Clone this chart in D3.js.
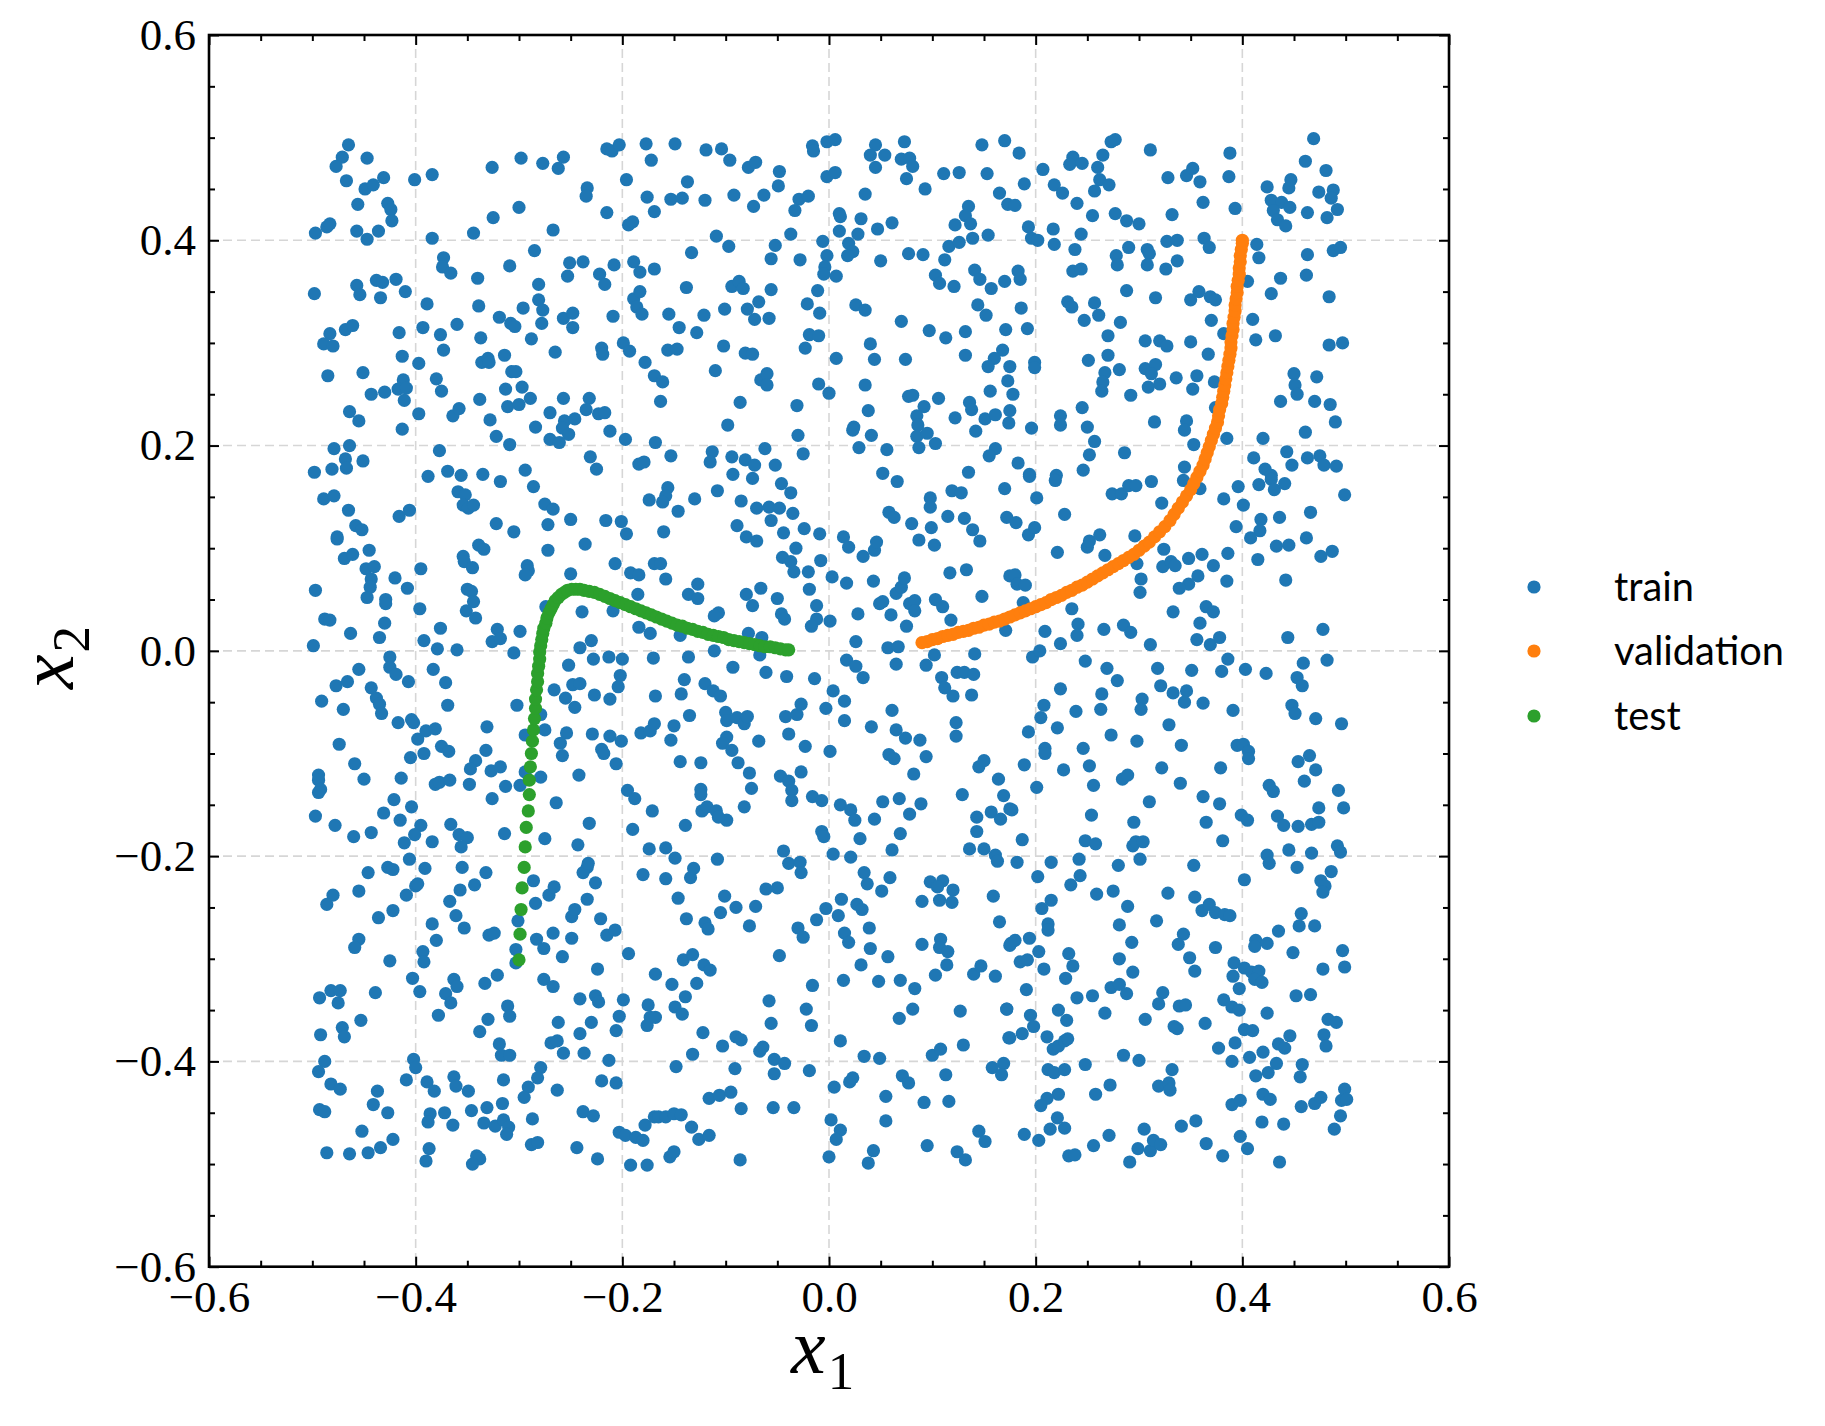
<!DOCTYPE html>
<html><head><meta charset="utf-8">
<script src="https://cdn.jsdelivr.net/npm/d3@7"></script>
<style>body{margin:0;background:#fff} svg{display:block}</style>
</head><body><svg id="chart" width="1825" height="1426"></svg>
<script>
// ---------- DATA ----------
const trainPts = [
[-0.465,0.493],[-0.471,0.481],[-0.477,0.472],[-0.447,0.480],[-0.467,0.458],[-0.449,0.450],[-0.441,0.454],[-0.431,0.461],[-0.456,0.435],[-0.427,0.436],[-0.424,0.430],[-0.423,0.419],[-0.497,0.407],[-0.486,0.413],[-0.483,0.416],[-0.457,0.409],[-0.447,0.401],[-0.436,0.409],[-0.401,0.459],[-0.384,0.464],[-0.326,0.471],[-0.298,0.480],[-0.277,0.475],[-0.262,0.470],[-0.257,0.481],[-0.215,0.489],[-0.210,0.487],[-0.203,0.493],[-0.177,0.494],[-0.172,0.478],[-0.196,0.459],[-0.234,0.451],[-0.235,0.443],[-0.176,0.442],[-0.169,0.428],[-0.215,0.427],[-0.194,0.415],[-0.190,0.418],[-0.300,0.432],[-0.325,0.422],[-0.267,0.410],[-0.344,0.407],[-0.384,0.402],[-0.373,0.383],[-0.374,0.374],[-0.366,0.368],[-0.340,0.363],[-0.309,0.375],[-0.285,0.390],[-0.251,0.378],[-0.253,0.365],[-0.238,0.379],[-0.222,0.367],[-0.217,0.357],[-0.208,0.376],[-0.189,0.379],[-0.183,0.369],[-0.169,0.372],[-0.281,0.357],[-0.498,0.348],[-0.457,0.356],[-0.454,0.347],[-0.438,0.361],[-0.432,0.359],[-0.419,0.362],[-0.434,0.344],[-0.410,0.350],[-0.389,0.338],[-0.339,0.336],[-0.296,0.334],[-0.281,0.342],[-0.277,0.332],[-0.319,0.325],[-0.308,0.319],[-0.304,0.316],[-0.278,0.319],[-0.257,0.324],[-0.248,0.329],[-0.248,0.315],[-0.209,0.326],[-0.189,0.343],[-0.183,0.350],[-0.186,0.335],[-0.181,0.328],[-0.483,0.309],[-0.489,0.299],[-0.480,0.297],[-0.468,0.313],[-0.461,0.317],[-0.416,0.310],[-0.393,0.315],[-0.376,0.308],[-0.360,0.318],[-0.373,0.293],[-0.337,0.305],[-0.288,0.304],[-0.413,0.287],[-0.397,0.280],[-0.336,0.281],[-0.330,0.285],[-0.329,0.281],[-0.314,0.288],[-0.307,0.272],[-0.303,0.272],[-0.265,0.291],[-0.220,0.295],[-0.219,0.289],[-0.199,0.300],[-0.193,0.292],[-0.178,0.281],[-0.169,0.268],[-0.485,0.268],[-0.451,0.271],[-0.412,0.264],[-0.417,0.255],[-0.409,0.256],[-0.411,0.244],[-0.443,0.250],[-0.430,0.252],[-0.380,0.265],[-0.375,0.253],[-0.397,0.231],[-0.364,0.229],[-0.358,0.236],[-0.338,0.245],[-0.313,0.255],[-0.297,0.257],[-0.289,0.246],[-0.311,0.238],[-0.300,0.240],[-0.328,0.225],[-0.322,0.209],[-0.309,0.201],[-0.284,0.218],[-0.270,0.232],[-0.257,0.246],[-0.256,0.224],[-0.258,0.217],[-0.252,0.211],[-0.246,0.226],[-0.270,0.206],[-0.261,0.203],[-0.232,0.246],[-0.235,0.235],[-0.223,0.231],[-0.217,0.232],[-0.212,0.214],[-0.197,0.206],[-0.464,0.233],[-0.455,0.224],[-0.413,0.216],[-0.479,0.197],[-0.464,0.200],[-0.468,0.187],[-0.467,0.178],[-0.451,0.185],[-0.498,0.174],[-0.481,0.177],[-0.377,0.195],[-0.231,0.189],[-0.225,0.177],[-0.184,0.182],[-0.179,0.184],[-0.168,0.203],[-0.294,0.176],[-0.369,0.175],[-0.356,0.171],[-0.335,0.172],[-0.388,0.170],
[-0.161,0.262],[-0.163,0.243],[-0.149,0.494],[-0.119,0.488],[-0.104,0.489],[-0.096,0.478],[-0.078,0.471],[-0.071,0.476],[-0.048,0.467],[-0.049,0.453],[-0.137,0.457],[-0.153,0.440],[-0.142,0.441],[-0.120,0.439],[-0.092,0.444],[-0.063,0.444],[-0.073,0.433],[-0.029,0.440],[-0.020,0.443],[-0.033,0.429],[-0.016,0.492],[-0.015,0.487],[-0.002,0.496],[0.006,0.498],[-0.002,0.462],[0.006,0.466],[0.045,0.493],[0.040,0.483],[0.054,0.483],[0.073,0.496],[0.070,0.479],[0.078,0.480],[0.081,0.472],[0.045,0.471],[0.075,0.460],[0.093,0.450],[0.035,0.445],[0.111,0.465],[0.126,0.466],[0.148,0.493],[0.170,0.497],[0.153,0.465],[0.165,0.446],[0.173,0.435],[0.010,0.426],[0.011,0.423],[0.031,0.421],[0.010,0.409],[0.028,0.406],[0.047,0.411],[0.061,0.417],[-0.109,0.404],[-0.097,0.394],[-0.133,0.388],[-0.052,0.395],[-0.056,0.382],[-0.037,0.406],[-0.028,0.381],[-0.006,0.399],[-0.002,0.385],[-0.004,0.374],[-0.005,0.367],[0.007,0.365],[0.019,0.397],[0.023,0.389],[0.018,0.385],[0.050,0.380],[0.077,0.387],[0.091,0.386],[0.112,0.381],[0.116,0.394],[0.126,0.398],[0.122,0.415],[0.135,0.433],[0.132,0.424],[0.137,0.416],[0.139,0.402],[0.154,0.405],[0.103,0.366],[0.107,0.358],[0.121,0.355],[0.141,0.371],[0.146,0.362],[0.157,0.353],[0.170,0.360],[0.144,0.337],[0.152,0.327],[0.171,0.313],[-0.138,0.354],[-0.094,0.355],[-0.087,0.360],[-0.083,0.353],[-0.056,0.352],[-0.068,0.340],[-0.079,0.333],[-0.072,0.323],[-0.058,0.324],[-0.101,0.333],[-0.121,0.327],[-0.155,0.328],[-0.145,0.315],[-0.128,0.310],[-0.156,0.293],[-0.147,0.294],[-0.102,0.297],[-0.081,0.290],[-0.074,0.289],[-0.110,0.273],[-0.066,0.264],[-0.060,0.270],[-0.060,0.259],[-0.086,0.242],[-0.098,0.220],[-0.031,0.239],[-0.030,0.210],[-0.021,0.338],[-0.011,0.351],[-0.009,0.329],[-0.019,0.308],[-0.010,0.307],[-0.023,0.295],[-0.010,0.260],[0.000,0.251],[0.007,0.285],[0.026,0.337],[0.035,0.332],[0.040,0.299],[0.044,0.284],[0.035,0.259],[0.070,0.321],[0.074,0.284],[0.097,0.312],[0.113,0.305],[0.132,0.311],[0.132,0.288],[0.168,0.293],[0.160,0.285],[0.154,0.277],[0.175,0.277],[0.173,0.263],[0.156,0.253],[0.077,0.248],[0.081,0.249],[0.092,0.238],[0.106,0.246],[0.085,0.229],[0.086,0.220],[0.085,0.209],[0.095,0.212],[0.103,0.202],[0.087,0.198],[0.122,0.227],[0.136,0.242],[0.138,0.235],[0.151,0.226],[0.161,0.230],[0.142,0.214],[0.174,0.222],[0.175,0.234],[0.038,0.234],[0.024,0.218],[0.023,0.215],[0.041,0.210],[0.029,0.198],[0.056,0.196],[0.161,0.197],[0.155,0.190],[-0.153,0.190],[-0.113,0.194],[-0.115,0.184],[-0.094,0.189],[-0.081,0.186],[-0.072,0.181],[-0.062,0.197],[-0.052,0.181],[-0.025,0.192],[-0.093,0.172],[0.052,0.173],[0.135,0.174],
[0.180,0.434],[0.178,0.250],[0.183,0.183],[0.184,0.485],[0.207,0.469],[0.189,0.455],[0.218,0.454],[0.226,0.446],[0.236,0.481],[0.233,0.474],[0.245,0.475],[0.265,0.483],[0.273,0.496],[0.277,0.498],[0.260,0.471],[0.262,0.459],[0.271,0.454],[0.257,0.448],[0.240,0.436],[0.255,0.424],[0.277,0.426],[0.288,0.419],[0.300,0.416],[0.311,0.488],[0.328,0.461],[0.346,0.463],[0.352,0.470],[0.359,0.457],[0.362,0.437],[0.332,0.425],[0.388,0.485],[0.387,0.462],[0.393,0.431],[0.193,0.413],[0.196,0.402],[0.202,0.400],[0.217,0.411],[0.218,0.396],[0.244,0.406],[0.238,0.391],[0.183,0.370],[0.185,0.362],[0.236,0.370],[0.244,0.372],[0.186,0.334],[0.192,0.314],[0.290,0.393],[0.278,0.385],[0.279,0.376],[0.308,0.391],[0.310,0.387],[0.308,0.376],[0.327,0.399],[0.337,0.400],[0.337,0.380],[0.326,0.372],[0.363,0.402],[0.368,0.393],[0.414,0.396],[0.416,0.383],[0.405,0.360],[0.437,0.363],[0.463,0.386],[0.462,0.366],[0.488,0.390],[0.495,0.393],[0.469,0.499],[0.461,0.477],[0.481,0.468],[0.424,0.452],[0.445,0.451],[0.447,0.459],[0.428,0.439],[0.438,0.437],[0.430,0.429],[0.446,0.432],[0.434,0.420],[0.442,0.414],[0.474,0.447],[0.488,0.449],[0.486,0.441],[0.492,0.430],[0.463,0.427],[0.482,0.422],[0.288,0.351],[0.316,0.344],[0.350,0.342],[0.358,0.350],[0.369,0.345],[0.374,0.342],[0.231,0.340],[0.235,0.335],[0.257,0.339],[0.261,0.327],[0.247,0.322],[0.282,0.320],[0.270,0.307],[0.270,0.288],[0.251,0.283],[0.306,0.302],[0.320,0.302],[0.327,0.297],[0.350,0.301],[0.370,0.322],[0.382,0.309],[0.367,0.289],[0.410,0.323],[0.428,0.348],[0.413,0.303],[0.432,0.307],[0.484,0.345],[0.484,0.298],[0.497,0.300],[0.199,0.281],[0.199,0.276],[0.267,0.271],[0.265,0.262],[0.264,0.253],[0.281,0.274],[0.292,0.249],[0.306,0.275],[0.316,0.279],[0.312,0.270],[0.320,0.260],[0.309,0.257],[0.336,0.266],[0.356,0.268],[0.352,0.255],[0.373,0.262],[0.450,0.270],[0.451,0.259],[0.453,0.250],[0.472,0.267],[0.437,0.243],[0.470,0.243],[0.485,0.240],[0.490,0.223],[0.245,0.237],[0.224,0.229],[0.224,0.220],[0.250,0.218],[0.196,0.217],[0.257,0.204],[0.252,0.191],[0.286,0.193],[0.246,0.176],[0.315,0.223],[0.346,0.224],[0.344,0.215],[0.353,0.201],[0.344,0.179],[0.385,0.207],[0.374,0.237],[0.420,0.207],[0.411,0.188],[0.422,0.177],[0.443,0.194],[0.448,0.181],[0.461,0.213],[0.463,0.188],[0.475,0.190],[0.479,0.181],[0.491,0.180],[0.194,0.172],[0.220,0.171],[0.428,0.171],
[-0.318,0.165],[-0.286,0.160],[-0.489,0.148],[-0.479,0.151],[-0.465,0.137],[-0.416,0.131],[-0.406,0.137],[-0.458,0.122],[-0.452,0.118],[-0.476,0.111],[-0.476,0.109],[-0.445,0.098],[-0.469,0.090],[-0.461,0.094],[-0.448,0.080],[-0.440,0.082],[-0.443,0.070],[-0.444,0.062],[-0.447,0.052],[-0.420,0.071],[-0.408,0.061],[-0.429,0.050],[-0.429,0.046],[-0.497,0.059],[-0.488,0.031],[-0.483,0.030],[-0.430,0.027],[-0.463,0.017],[-0.435,0.013],[-0.499,0.005],[-0.359,0.155],[-0.352,0.152],[-0.354,0.142],[-0.349,0.139],[-0.344,0.142],[-0.322,0.124],[-0.305,0.116],[-0.275,0.143],[-0.267,0.138],[-0.272,0.123],[-0.250,0.128],[-0.216,0.127],[-0.201,0.126],[-0.196,0.114],[-0.174,0.147],[-0.236,0.104],[-0.272,0.098],[-0.339,0.103],[-0.334,0.099],[-0.354,0.092],[-0.353,0.087],[-0.345,0.081],[-0.395,0.080],[-0.292,0.083],[-0.291,0.078],[-0.294,0.074],[-0.250,0.075],[-0.207,0.085],[-0.192,0.076],[-0.184,0.074],[-0.169,0.085],[-0.350,0.060],[-0.346,0.058],[-0.344,0.048],[-0.351,0.039],[-0.342,0.032],[-0.396,0.041],[-0.185,0.055],[-0.209,0.039],[-0.239,0.038],[-0.274,0.043],[-0.376,0.022],[-0.392,0.010],[-0.379,0.002],[-0.360,0.001],[-0.321,0.021],[-0.326,0.009],[-0.318,0.012],[-0.299,0.019],[-0.305,-0.002],[-0.184,0.023],[-0.173,0.017],[-0.230,0.010],[-0.241,0.003],[-0.228,-0.008],[-0.213,-0.006],[-0.200,-0.008],[-0.170,-0.007],[-0.252,-0.014],[-0.202,-0.024],[-0.204,-0.035],[-0.248,-0.033],[-0.241,-0.032],[-0.266,-0.038],[-0.255,-0.046],[-0.246,-0.055],[-0.227,-0.043],[-0.212,-0.047],[-0.168,-0.044],[-0.425,-0.006],[-0.425,-0.016],[-0.419,-0.023],[-0.407,-0.030],[-0.455,-0.018],[-0.477,-0.034],[-0.466,-0.030],[-0.443,-0.036],[-0.438,-0.046],[-0.435,-0.052],[-0.433,-0.061],[-0.491,-0.049],[-0.470,-0.057],[-0.383,-0.018],[-0.371,-0.031],[-0.369,-0.053],[-0.302,-0.053],[-0.417,-0.070],[-0.404,-0.067],[-0.402,-0.070],[-0.398,-0.086],[-0.390,-0.078],[-0.381,-0.076],[-0.405,-0.104],[-0.392,-0.100],[-0.375,-0.093],[-0.368,-0.098],[-0.331,-0.074],[-0.332,-0.097],[-0.342,-0.107],[-0.347,-0.115],[-0.327,-0.117],[-0.318,-0.113],[-0.279,-0.062],[-0.275,-0.077],[-0.294,-0.082],[-0.254,-0.080],[-0.260,-0.090],[-0.258,-0.102],[-0.229,-0.081],[-0.212,-0.083],[-0.201,-0.088],[-0.220,-0.096],[-0.218,-0.100],[-0.206,-0.110],[-0.182,-0.080],[-0.173,-0.078],[-0.169,-0.071],[-0.474,-0.091],[-0.459,-0.110],[-0.450,-0.125],[-0.494,-0.121],[-0.494,-0.126],[-0.492,-0.135],[-0.494,-0.138],[-0.414,-0.124],[-0.421,-0.145],[-0.404,-0.152],[-0.431,-0.158],[-0.497,-0.161],[-0.478,-0.170],[-0.415,-0.165],[-0.381,-0.130],[-0.377,-0.128],[-0.367,-0.126],[-0.348,-0.130],[-0.326,-0.144],[-0.313,-0.132],[-0.299,-0.131],[-0.294,-0.118],[-0.279,-0.123],[-0.242,-0.121],[-0.264,-0.148],[-0.195,-0.136],[-0.188,-0.144],[-0.171,-0.156],[-0.232,-0.168],[-0.366,-0.169],[-0.395,-0.170],
[-0.074,0.168],[-0.046,0.163],[0.066,0.165],[-0.156,0.159],[-0.158,0.151],[-0.161,0.145],[-0.130,0.148],[-0.108,0.156],[-0.146,0.136],[-0.085,0.146],[-0.070,0.139],[-0.058,0.140],[-0.048,0.139],[-0.037,0.154],[-0.035,0.134],[-0.056,0.127],[-0.089,0.122],[-0.160,0.116],[-0.080,0.111],[-0.070,0.107],[-0.044,0.115],[-0.024,0.119],[-0.009,0.114],[-0.032,0.100],[-0.045,0.091],[-0.037,0.087],[-0.034,0.077],[-0.020,0.077],[-0.008,0.088],[-0.163,0.085],[-0.158,0.070],[-0.127,0.065],[-0.136,0.055],[-0.127,0.051],[-0.080,0.055],[-0.066,0.061],[-0.074,0.044],[-0.050,0.051],[-0.046,0.036],[-0.043,0.031],[-0.019,0.060],[-0.012,0.044],[-0.012,0.031],[-0.017,0.024],[-0.107,0.037],[-0.111,0.034],[-0.144,0.015],[-0.111,0.000],[-0.078,0.017],[-0.065,0.013],[-0.067,-0.004],[-0.136,-0.006],[-0.093,-0.016],[-0.061,-0.021],[-0.041,-0.025],[-0.014,-0.027],[-0.140,-0.028],[-0.143,-0.042],[-0.120,-0.032],[-0.112,-0.039],[-0.105,-0.044],[-0.135,-0.063],[-0.100,-0.060],[-0.099,-0.068],[-0.089,-0.065],[-0.082,-0.071],[-0.079,-0.064],[-0.150,-0.073],[-0.153,-0.087],[-0.099,-0.084],[-0.103,-0.090],[-0.094,-0.097],[-0.068,-0.088],[-0.042,-0.064],[-0.031,-0.062],[-0.027,-0.052],[-0.039,-0.081],[-0.023,-0.093],[-0.003,-0.056],[0.004,-0.039],[0.015,-0.049],[0.015,-0.068],[0.001,-0.098],[-0.144,-0.108],[-0.124,-0.109],[-0.088,-0.109],[-0.077,-0.119],[-0.075,-0.134],[-0.124,-0.135],[-0.124,-0.140],[-0.047,-0.122],[-0.039,-0.127],[-0.036,-0.136],[-0.036,-0.146],[-0.027,-0.118],[-0.016,-0.142],[-0.007,-0.146],[-0.123,-0.156],[-0.118,-0.152],[-0.109,-0.156],[-0.099,-0.165],[-0.107,-0.162],[-0.082,-0.152],[-0.139,-0.170],[0.011,-0.150],[0.021,-0.155],[0.025,-0.165],[0.044,-0.164],[0.052,-0.147],[0.068,-0.144],[0.078,-0.159],[0.089,-0.149],[0.041,-0.074],[0.061,-0.058],[0.065,-0.077],[0.074,-0.085],[0.088,-0.087],[0.094,-0.103],[0.058,-0.101],[0.063,-0.105],[0.082,-0.120],[0.123,-0.070],[0.123,-0.083],[0.145,-0.113],[0.150,-0.107],[0.164,-0.125],[0.169,-0.141],[0.129,-0.140],[0.143,-0.162],[0.157,-0.157],[0.166,-0.164],[0.175,-0.154],[0.017,0.066],[0.003,0.072],[0.001,0.029],[0.026,0.009],[0.017,-0.009],[0.026,-0.015],[0.033,-0.026],[0.028,0.036],[0.014,0.111],[0.019,0.101],[0.033,0.092],[0.044,0.098],[0.046,0.106],[0.043,0.068],[0.049,0.046],[0.052,0.048],[0.060,0.035],[0.065,0.056],[0.070,0.062],[0.073,0.071],[0.058,0.135],[0.063,0.130],[0.080,0.124],[0.087,0.108],[0.098,0.149],[0.098,0.140],[0.099,0.120],[0.102,0.103],[0.115,0.131],[0.119,0.156],[0.128,0.154],[0.131,0.129],[0.139,0.118],[0.146,0.107],[0.170,0.158],[0.172,0.130],[0.117,0.076],[0.133,0.079],[0.148,0.053],[0.175,0.073],[0.078,0.046],[0.083,0.049],[0.083,0.039],[0.075,0.024],[0.103,0.050],[0.110,0.043],[0.118,0.030],[0.057,0.003],[0.067,0.004],[0.065,-0.013],[0.094,-0.014],[0.102,-0.004],[0.109,-0.026],[0.112,-0.036],[0.120,-0.044],[0.124,-0.021],[0.131,-0.021],[0.140,-0.023],[0.138,-0.043],[0.141,-0.003],[0.171,0.020],
[0.194,0.170],[0.219,0.166],[0.201,0.149],[0.228,0.133],[0.274,0.153],[0.283,0.153],[0.290,0.161],[0.297,0.161],[0.312,0.165],[0.343,0.166],[0.322,0.144],[0.359,0.158],[0.181,0.125],[0.193,0.113],[0.199,0.120],[0.221,0.096],[0.250,0.101],[0.252,0.107],[0.262,0.113],[0.267,0.093],[0.296,0.112],[0.298,0.085],[0.302,0.070],[0.301,0.057],[0.180,0.074],[0.182,0.065],[0.190,0.064],[0.188,0.047],[0.235,0.041],[0.241,0.026],[0.240,0.015],[0.209,0.019],[0.224,0.007],[0.266,0.021],[0.285,0.025],[0.292,0.018],[0.311,0.006],[0.324,0.099],[0.323,0.082],[0.331,0.087],[0.335,0.083],[0.348,0.090],[0.361,0.094],[0.372,0.083],[0.357,0.073],[0.348,0.065],[0.339,0.061],[0.333,0.038],[0.386,0.095],[0.385,0.068],[0.365,0.043],[0.372,0.038],[0.359,0.027],[0.356,0.011],[0.369,0.006],[0.378,0.013],[0.382,0.148],[0.396,0.160],[0.401,0.142],[0.394,0.121],[0.416,0.162],[0.428,0.167],[0.431,0.157],[0.441,0.163],[0.418,0.128],[0.417,0.117],[0.408,0.110],[0.415,0.089],[0.433,0.102],[0.445,0.103],[0.436,0.130],[0.442,0.069],[0.462,0.110],[0.466,0.135],[0.476,0.092],[0.487,0.097],[0.499,0.152],[0.478,0.021],[0.444,0.013],[0.197,-0.006],[0.204,0.000],[0.248,-0.010],[0.269,-0.017],[0.279,-0.029],[0.224,-0.037],[0.208,-0.053],[0.205,-0.065],[0.193,-0.079],[0.221,-0.075],[0.239,-0.059],[0.264,-0.042],[0.263,-0.057],[0.303,-0.047],[0.302,-0.057],[0.318,-0.017],[0.321,-0.034],[0.333,-0.041],[0.346,-0.039],[0.344,-0.050],[0.351,-0.019],[0.362,-0.051],[0.380,-0.020],[0.386,-0.008],[0.403,-0.018],[0.423,-0.022],[0.391,-0.058],[0.329,-0.072],[0.273,-0.082],[0.298,-0.088],[0.341,-0.092],[0.246,-0.095],[0.209,-0.095],[0.209,-0.100],[0.189,-0.111],[0.227,-0.116],[0.252,-0.112],[0.256,-0.131],[0.284,-0.125],[0.289,-0.121],[0.201,-0.133],[0.322,-0.114],[0.340,-0.129],[0.379,-0.114],[0.362,-0.142],[0.378,-0.149],[0.310,-0.147],[0.177,-0.155],[0.254,-0.160],[0.295,-0.167],[0.365,-0.167],[0.395,-0.092],[0.401,-0.091],[0.406,-0.098],[0.406,-0.105],[0.399,-0.160],[0.405,-0.165],[0.426,-0.131],[0.430,-0.137],[0.434,-0.161],[0.454,-0.171],[0.448,-0.053],[0.451,-0.061],[0.453,-0.026],[0.458,-0.034],[0.459,-0.012],[0.482,-0.009],[0.471,-0.066],[0.496,-0.071],[0.454,-0.108],[0.465,-0.102],[0.471,-0.116],[0.460,-0.127],[0.493,-0.136],[0.474,-0.153],[0.498,-0.153],[0.467,-0.169],[0.474,-0.167],[0.440,-0.170],
[-0.460,-0.181],[-0.443,-0.177],[-0.411,-0.187],[-0.401,-0.179],[-0.384,-0.186],[-0.358,-0.179],[-0.350,-0.182],[-0.356,-0.191],[-0.314,-0.178],[-0.275,-0.183],[-0.243,-0.189],[-0.190,-0.174],[-0.174,-0.193],[-0.406,-0.203],[-0.446,-0.216],[-0.427,-0.211],[-0.422,-0.213],[-0.391,-0.212],[-0.355,-0.211],[-0.332,-0.216],[-0.480,-0.238],[-0.486,-0.247],[-0.455,-0.234],[-0.409,-0.238],[-0.400,-0.229],[-0.398,-0.227],[-0.357,-0.233],[-0.343,-0.228],[-0.286,-0.224],[-0.284,-0.246],[-0.271,-0.238],[-0.266,-0.230],[-0.234,-0.211],[-0.238,-0.216],[-0.233,-0.207],[-0.226,-0.226],[-0.234,-0.242],[-0.180,-0.218],[-0.367,-0.244],[-0.361,-0.258],[-0.353,-0.270],[-0.436,-0.260],[-0.422,-0.253],[-0.384,-0.266],[-0.380,-0.282],[-0.455,-0.281],[-0.459,-0.289],[-0.425,-0.302],[-0.393,-0.293],[-0.392,-0.303],[-0.329,-0.277],[-0.324,-0.275],[-0.301,-0.263],[-0.303,-0.291],[-0.303,-0.304],[-0.283,-0.281],[-0.276,-0.290],[-0.267,-0.275],[-0.249,-0.259],[-0.246,-0.252],[-0.249,-0.280],[-0.258,-0.298],[-0.221,-0.261],[-0.215,-0.277],[-0.207,-0.272],[-0.194,-0.295],[-0.224,-0.310],[-0.403,-0.319],[-0.363,-0.320],[-0.360,-0.327],[-0.396,-0.332],[-0.333,-0.324],[-0.321,-0.316],[-0.276,-0.320],[-0.267,-0.327],[-0.371,-0.334],[-0.366,-0.343],[-0.439,-0.333],[-0.482,-0.331],[-0.473,-0.331],[-0.493,-0.338],[-0.475,-0.343],[-0.378,-0.355],[-0.311,-0.346],[-0.309,-0.356],[-0.330,-0.359],[-0.338,-0.371],[-0.453,-0.360],[-0.471,-0.367],[-0.469,-0.376],[-0.492,-0.374],[-0.319,-0.383],[-0.317,-0.394],[-0.309,-0.394],[-0.262,-0.362],[-0.241,-0.339],[-0.226,-0.336],[-0.223,-0.342],[-0.199,-0.340],[-0.203,-0.356],[-0.230,-0.362],[-0.241,-0.373],[-0.206,-0.370],[-0.175,-0.345],[-0.173,-0.357],[-0.176,-0.365],[-0.269,-0.382],[-0.263,-0.380],[-0.257,-0.392],[-0.237,-0.392],[-0.213,-0.399],[-0.488,-0.400],[-0.494,-0.410],[-0.402,-0.398],[-0.400,-0.406],[-0.409,-0.418],[-0.482,-0.422],[-0.473,-0.427],[-0.437,-0.429],[-0.441,-0.442],[-0.427,-0.450],[-0.493,-0.447],[-0.488,-0.449],[-0.389,-0.420],[-0.382,-0.429],[-0.363,-0.415],[-0.361,-0.424],[-0.349,-0.429],[-0.315,-0.418],[-0.279,-0.406],[-0.282,-0.416],[-0.291,-0.425],[-0.295,-0.435],[-0.263,-0.428],[-0.220,-0.419],[-0.206,-0.421],[-0.386,-0.451],[-0.388,-0.459],[-0.372,-0.450],[-0.364,-0.462],[-0.346,-0.448],[-0.331,-0.445],[-0.316,-0.441],[-0.334,-0.460],[-0.323,-0.463],[-0.315,-0.457],[-0.310,-0.464],[-0.312,-0.471],[-0.287,-0.456],[-0.238,-0.449],[-0.228,-0.453],[-0.452,-0.468],[-0.422,-0.476],[-0.434,-0.484],[-0.446,-0.489],[-0.464,-0.490],[-0.486,-0.489],[-0.387,-0.485],[-0.390,-0.497],[-0.341,-0.492],[-0.338,-0.495],[-0.345,-0.500],[-0.288,-0.481],[-0.282,-0.479],[-0.244,-0.484],[-0.224,-0.495],[-0.203,-0.469],[-0.197,-0.472],[-0.187,-0.474],[-0.180,-0.477],[-0.178,-0.462],[-0.169,-0.454],[-0.192,-0.501],[-0.176,-0.501],
[-0.007,-0.176],[-0.005,-0.181],[0.030,-0.183],[0.069,-0.178],[0.143,-0.176],[-0.158,-0.192],[-0.149,-0.202],[-0.108,-0.203],[-0.158,-0.222],[-0.134,-0.221],[-0.131,-0.212],[-0.044,-0.195],[-0.039,-0.207],[-0.028,-0.206],[-0.027,-0.216],[0.004,-0.198],[0.021,-0.201],[0.061,-0.194],[0.034,-0.216],[0.037,-0.227],[0.059,-0.221],[0.051,-0.234],[0.136,-0.193],[0.150,-0.193],[0.161,-0.199],[0.163,-0.205],[0.098,-0.225],[0.110,-0.224],[0.105,-0.230],[0.120,-0.233],[0.090,-0.244],[0.107,-0.243],[0.119,-0.245],[0.159,-0.239],[0.165,-0.264],[-0.146,-0.241],[-0.101,-0.239],[-0.090,-0.250],[-0.105,-0.255],[-0.071,-0.249],[-0.061,-0.232],[-0.050,-0.231],[-0.138,-0.261],[-0.120,-0.265],[-0.117,-0.271],[-0.077,-0.268],[-0.030,-0.270],[-0.025,-0.279],[-0.012,-0.262],[-0.003,-0.251],[0.012,-0.242],[0.009,-0.258],[0.027,-0.247],[0.032,-0.252],[0.039,-0.270],[0.015,-0.275],[0.019,-0.284],[0.040,-0.290],[0.057,-0.298],[0.031,-0.306],[0.090,-0.286],[0.108,-0.281],[0.107,-0.289],[0.115,-0.293],[0.114,-0.306],[0.175,-0.287],[-0.141,-0.301],[-0.132,-0.296],[-0.121,-0.306],[-0.115,-0.311],[-0.168,-0.315],[-0.152,-0.325],[-0.128,-0.324],[-0.139,-0.337],[-0.149,-0.347],[-0.142,-0.354],[-0.168,-0.357],[-0.048,-0.297],[-0.058,-0.341],[-0.056,-0.363],[-0.016,-0.326],[-0.022,-0.349],[-0.017,-0.365],[0.014,-0.321],[0.048,-0.322],[0.069,-0.321],[0.083,-0.329],[0.068,-0.358],[0.081,-0.349],[0.103,-0.316],[0.140,-0.315],[0.147,-0.307],[0.161,-0.317],[0.127,-0.351],[0.172,-0.349],[0.174,-0.377],[-0.122,-0.372],[-0.090,-0.376],[-0.085,-0.379],[-0.103,-0.385],[-0.132,-0.393],[-0.148,-0.405],[-0.091,-0.407],[-0.067,-0.390],[-0.064,-0.386],[-0.053,-0.398],[-0.043,-0.402],[-0.053,-0.412],[-0.019,-0.409],[0.011,-0.380],[0.034,-0.395],[0.049,-0.397],[0.005,-0.425],[0.020,-0.420],[0.023,-0.416],[0.071,-0.414],[0.077,-0.421],[0.055,-0.434],[0.092,-0.440],[0.116,-0.439],[0.113,-0.413],[0.100,-0.394],[0.108,-0.388],[0.130,-0.384],[0.158,-0.406],[0.169,-0.402],[0.167,-0.413],[-0.116,-0.436],[-0.106,-0.433],[-0.095,-0.430],[-0.085,-0.446],[-0.054,-0.445],[-0.034,-0.445],[-0.165,-0.454],[-0.158,-0.454],[-0.150,-0.451],[-0.143,-0.452],[-0.133,-0.464],[-0.126,-0.476],[-0.116,-0.472],[-0.154,-0.493],[-0.150,-0.488],[-0.086,-0.496],[0.002,-0.457],[0.011,-0.467],[0.007,-0.476],[0.000,-0.493],[0.055,-0.458],[0.043,-0.487],[0.038,-0.499],[0.095,-0.482],[0.124,-0.488],[0.132,-0.496],[0.145,-0.468],[0.151,-0.478],
[0.187,-0.184],[0.182,-0.206],[0.215,-0.206],[0.202,-0.220],[0.248,-0.185],[0.258,-0.188],[0.242,-0.203],[0.243,-0.219],[0.234,-0.228],[0.294,-0.190],[0.297,-0.186],[0.304,-0.186],[0.301,-0.203],[0.280,-0.209],[0.381,-0.185],[0.353,-0.209],[0.402,-0.223],[0.259,-0.237],[0.275,-0.234],[0.289,-0.249],[0.328,-0.236],[0.354,-0.240],[0.361,-0.253],[0.368,-0.247],[0.374,-0.255],[0.383,-0.257],[0.388,-0.258],[0.424,-0.199],[0.426,-0.207],[0.445,-0.194],[0.453,-0.211],[0.467,-0.197],[0.492,-0.190],[0.495,-0.196],[0.486,-0.215],[0.476,-0.224],[0.480,-0.229],[0.478,-0.235],[0.206,-0.251],[0.215,-0.243],[0.212,-0.266],[0.212,-0.272],[0.281,-0.267],[0.293,-0.284],[0.317,-0.263],[0.343,-0.276],[0.338,-0.286],[0.349,-0.299],[0.354,-0.312],[0.374,-0.289],[0.457,-0.256],[0.455,-0.268],[0.470,-0.268],[0.435,-0.273],[0.413,-0.282],[0.412,-0.288],[0.424,-0.285],[0.449,-0.294],[0.497,-0.292],[0.499,-0.308],[0.478,-0.310],[0.176,-0.285],[0.180,-0.282],[0.194,-0.280],[0.185,-0.303],[0.192,-0.301],[0.203,-0.293],[0.208,-0.310],[0.232,-0.295],[0.236,-0.307],[0.229,-0.319],[0.281,-0.300],[0.294,-0.313],[0.392,-0.304],[0.391,-0.317],[0.397,-0.329],[0.402,-0.309],[0.409,-0.313],[0.416,-0.312],[0.412,-0.320],[0.419,-0.323],[0.191,-0.330],[0.240,-0.338],[0.255,-0.336],[0.273,-0.328],[0.281,-0.325],[0.288,-0.334],[0.323,-0.333],[0.319,-0.344],[0.339,-0.346],[0.345,-0.345],[0.382,-0.340],[0.390,-0.347],[0.397,-0.350],[0.452,-0.336],[0.466,-0.335],[0.424,-0.353],[0.172,-0.349],[0.195,-0.355],[0.198,-0.366],[0.222,-0.350],[0.230,-0.360],[0.267,-0.353],[0.306,-0.359],[0.334,-0.366],[0.337,-0.368],[0.364,-0.363],[0.402,-0.369],[0.410,-0.370],[0.483,-0.359],[0.491,-0.362],[0.479,-0.374],[0.481,-0.385],[0.446,-0.375],[0.435,-0.383],[0.441,-0.387],[0.175,-0.377],[0.187,-0.373],[0.211,-0.376],[0.217,-0.388],[0.222,-0.385],[0.228,-0.380],[0.231,-0.378],[0.285,-0.394],[0.300,-0.399],[0.248,-0.403],[0.212,-0.408],[0.218,-0.411],[0.228,-0.408],[0.377,-0.387],[0.393,-0.382],[0.390,-0.400],[0.407,-0.396],[0.420,-0.391],[0.433,-0.402],[0.413,-0.414],[0.425,-0.411],[0.458,-0.403],[0.456,-0.415],[0.332,-0.408],[0.319,-0.424],[0.329,-0.421],[0.330,-0.428],[0.272,-0.423],[0.258,-0.432],[0.222,-0.432],[0.211,-0.436],[0.205,-0.443],[0.221,-0.455],[0.214,-0.466],[0.228,-0.465],[0.189,-0.471],[0.203,-0.477],[0.232,-0.492],[0.238,-0.491],[0.256,-0.482],[0.271,-0.472],[0.291,-0.498],[0.299,-0.485],[0.305,-0.466],[0.311,-0.487],[0.314,-0.477],[0.321,-0.481],[0.341,-0.463],[0.355,-0.458],[0.365,-0.480],[0.381,-0.492],[0.390,-0.442],[0.398,-0.438],[0.398,-0.473],[0.405,-0.485],[0.420,-0.432],[0.427,-0.437],[0.419,-0.459],[0.440,-0.461],[0.436,-0.498],[0.457,-0.444],[0.470,-0.441],[0.476,-0.435],[0.496,-0.438],[0.499,-0.427],[0.501,-0.437],[0.495,-0.453],[0.489,-0.466]
];

const validationPts = [
[0.090,0.008],[0.095,0.009],[0.100,0.011],[0.105,0.012],[0.110,0.014],[0.115,0.015],[0.120,0.016],[0.125,0.018],[0.130,0.019],[0.135,0.020],[0.140,0.022],[0.145,0.023],[0.150,0.025],[0.155,0.026],[0.160,0.028],[0.165,0.029],[0.170,0.031],[0.175,0.033],[0.180,0.035],[0.185,0.037],[0.190,0.039],[0.195,0.041],[0.200,0.043],[0.205,0.045],[0.210,0.047],[0.215,0.050],[0.220,0.052],[0.225,0.054],[0.230,0.057],[0.235,0.059],[0.240,0.062],[0.245,0.064],[0.250,0.067],[0.255,0.070],[0.260,0.073],[0.265,0.076],[0.270,0.079],[0.275,0.082],[0.280,0.085],[0.285,0.088],[0.290,0.091],[0.295,0.094],[0.300,0.098],[0.305,0.102],[0.310,0.106],[0.315,0.111],[0.320,0.116],[0.325,0.121],[0.330,0.127],[0.334,0.133],[0.338,0.139],[0.342,0.145],[0.346,0.151],[0.350,0.157],[0.353,0.163],[0.356,0.169],[0.359,0.175],[0.362,0.181],[0.364,0.187],[0.366,0.193],[0.368,0.199],[0.370,0.205],[0.372,0.211],[0.374,0.217],[0.376,0.223],[0.377,0.229],[0.378,0.235],[0.380,0.241],[0.381,0.247],[0.382,0.253],[0.383,0.259],[0.384,0.265],[0.385,0.271],[0.386,0.277],[0.387,0.283],[0.388,0.289],[0.389,0.295],[0.389,0.301],[0.390,0.307],[0.391,0.313],[0.391,0.319],[0.392,0.325],[0.393,0.331],[0.393,0.337],[0.394,0.343],[0.395,0.349],[0.395,0.355],[0.396,0.361],[0.397,0.367],[0.397,0.373],[0.398,0.379],[0.398,0.385],[0.399,0.391],[0.400,0.397],[0.400,0.400]
];

const testPts = [
[-0.300,-0.301],[-0.299,-0.276],[-0.298,-0.252],[-0.297,-0.231],[-0.295,-0.211],[-0.294,-0.191],[-0.293,-0.172],[-0.291,-0.156],[-0.290,-0.140],[-0.290,-0.126],[-0.289,-0.113],[-0.288,-0.100],[-0.287,-0.088],[-0.286,-0.077],[-0.285,-0.066],[-0.284,-0.056],[-0.284,-0.047],[-0.283,-0.038],[-0.282,-0.030],[-0.282,-0.022],[-0.281,-0.015],[-0.280,-0.008],[-0.280,-0.001],[-0.279,0.005],[-0.278,0.011],[-0.277,0.017],[-0.276,0.022],[-0.274,0.027],[-0.273,0.032],[-0.271,0.037],[-0.269,0.041],[-0.267,0.045],[-0.265,0.049],[-0.262,0.052],[-0.259,0.055],[-0.256,0.057],[-0.253,0.059],[-0.249,0.060],[-0.245,0.060],[-0.241,0.060],[-0.237,0.059],[-0.232,0.058],[-0.227,0.057],[-0.222,0.055],[-0.217,0.053],[-0.212,0.051],[-0.207,0.049],[-0.202,0.047],[-0.197,0.045],[-0.192,0.043],[-0.187,0.041],[-0.182,0.039],[-0.177,0.037],[-0.172,0.035],[-0.167,0.033],[-0.162,0.031],[-0.157,0.029],[-0.152,0.027],[-0.147,0.025],[-0.142,0.024],[-0.137,0.022],[-0.132,0.021],[-0.127,0.019],[-0.122,0.018],[-0.117,0.016],[-0.112,0.015],[-0.107,0.014],[-0.102,0.013],[-0.097,0.011],[-0.092,0.010],[-0.087,0.009],[-0.082,0.008],[-0.077,0.007],[-0.072,0.006],[-0.067,0.005],[-0.062,0.004],[-0.057,0.004],[-0.052,0.003],[-0.047,0.002],[-0.042,0.001],[-0.039,0.001]
];

const seriesNames = ["train", "validation", "test"];
const majorTicks = [-0.6, -0.4, -0.2, 0.0, 0.2, 0.4, 0.6];
const tickLabels = ["\u22120.6", "\u22120.4", "\u22120.2", "0.0", "0.2", "0.4", "0.6"];
const minorTicks = [-0.55,-0.5,-0.45,-0.35,-0.3,-0.25,-0.15,-0.1,-0.05,0.05,0.1,0.15,0.25,0.3,0.35,0.45,0.5,0.55];
const gridTicks = [-0.4, -0.2, 0.0, 0.2, 0.4];

// ---------- STYLE ----------
const colors = ["#1f77b4", "#ff7f0e", "#2ca02c"];
const L = 209, R = 1449, T = 35, B = 1266.7;
const rPt = 6.6;
const tickFont = "'Liberation Serif', 'Times New Roman', serif";

const svg = d3.select("#chart");
const x = d3.scaleLinear().domain([-0.6, 0.6]).range([L, R]);
const y = d3.scaleLinear().domain([-0.6, 0.6]).range([B, T]);

// grid
const grid = svg.append("g");
grid.selectAll("line.gv").data(gridTicks).join("line")
  .attr("x1", d => x(d)).attr("x2", d => x(d)).attr("y1", T).attr("y2", B);
grid.selectAll("line.gh").data(gridTicks).join("line").attr("class","gh")
  .attr("y1", d => y(d)).attr("y2", d => y(d)).attr("x1", L).attr("x2", R);
grid.selectAll("line").attr("stroke", "#d6d6d6").attr("stroke-width", 1.6).attr("stroke-dasharray", "9,5");

// points
const series = [trainPts, validationPts, testPts];
series.forEach((pts, i) => {
  svg.append("g").selectAll("circle").data(pts).join("circle")
    .attr("cx", d => x(d[0])).attr("cy", d => y(d[1])).attr("r", rPt)
    .attr("fill", colors[i]);
});

// axes
function styleAxis(g) {
  g.select(".domain").remove();
  g.selectAll(".tick line").attr("stroke", "#000").attr("stroke-width", 2);
  g.selectAll(".tick text").attr("fill", "#000").style("font-family", tickFont).style("font-size", "45px");
}
const fmt = (d, i) => tickLabels[majorTicks.indexOf(d)];
svg.append("g").attr("transform", `translate(0,${B})`)
  .call(d3.axisBottom(x).tickValues(majorTicks).tickFormat(fmt).tickSize(-10).tickSizeOuter(0).tickPadding(13)).call(styleAxis);
svg.append("g").attr("transform", `translate(0,${B})`)
  .call(d3.axisBottom(x).tickValues(minorTicks).tickFormat("").tickSize(-6).tickSizeOuter(0)).call(styleAxis);
svg.append("g").attr("transform", `translate(${L},0)`)
  .call(d3.axisLeft(y).tickValues(majorTicks).tickFormat(fmt).tickSize(-10).tickSizeOuter(0).tickPadding(13)).call(styleAxis);
svg.append("g").attr("transform", `translate(${L},0)`)
  .call(d3.axisLeft(y).tickValues(minorTicks).tickFormat("").tickSize(-6).tickSizeOuter(0)).call(styleAxis);
svg.append("g").attr("transform", `translate(0,${T})`)
  .call(d3.axisTop(x).tickValues(majorTicks).tickFormat("").tickSize(-10).tickSizeOuter(0)).call(styleAxis);
svg.append("g").attr("transform", `translate(0,${T})`)
  .call(d3.axisTop(x).tickValues(minorTicks).tickFormat("").tickSize(-6).tickSizeOuter(0)).call(styleAxis);
svg.append("g").attr("transform", `translate(${R},0)`)
  .call(d3.axisRight(y).tickValues(majorTicks).tickFormat("").tickSize(-10).tickSizeOuter(0)).call(styleAxis);
svg.append("g").attr("transform", `translate(${R},0)`)
  .call(d3.axisRight(y).tickValues(minorTicks).tickFormat("").tickSize(-6).tickSizeOuter(0)).call(styleAxis);

// spine
svg.append("rect").attr("x", L).attr("y", T).attr("width", R - L).attr("height", B - T)
  .attr("fill", "none").attr("stroke", "#000").attr("stroke-width", 2.6);

// axis labels
function mathLabel(g, sub) {
  const t = g.append("text").attr("x", 0).attr("y", 0).attr("fill", "#000")
    .style("font-family", tickFont);
  t.append("tspan").text("x").style("font-style", "italic").style("font-size", "78px");
  t.append("tspan").text(sub).attr("dx", 2).attr("dy", 16).style("font-size", "53px");
}
mathLabel(svg.append("g").attr("transform", `translate(791,1373)`), "1");
mathLabel(svg.append("g").attr("transform", `translate(73,689) rotate(-90)`), "2");

// legend
const legY = [587, 651, 716];
const leg = svg.append("g");
seriesNames.forEach((name, i) => {
  leg.append("circle").attr("cx", 1534).attr("cy", legY[i]).attr("r", rPt).attr("fill", colors[i]);
  leg.append("text").attr("x", 1614).attr("y", legY[i]).attr("dy", "0.36em").text(name)
    .attr("fill", "#000").style("font-family", "Lato, 'Open Sans', sans-serif").style("font-size", "40px");
});
// fit legend font so "validation" spans ~170px
const vt = leg.selectAll("text").filter(function(){ return this.textContent === "validation"; }).node();
const w = vt.getComputedTextLength();
const fs = 40 * 170 / w;
leg.selectAll("text").style("font-size", fs + "px");
</script></body></html>
